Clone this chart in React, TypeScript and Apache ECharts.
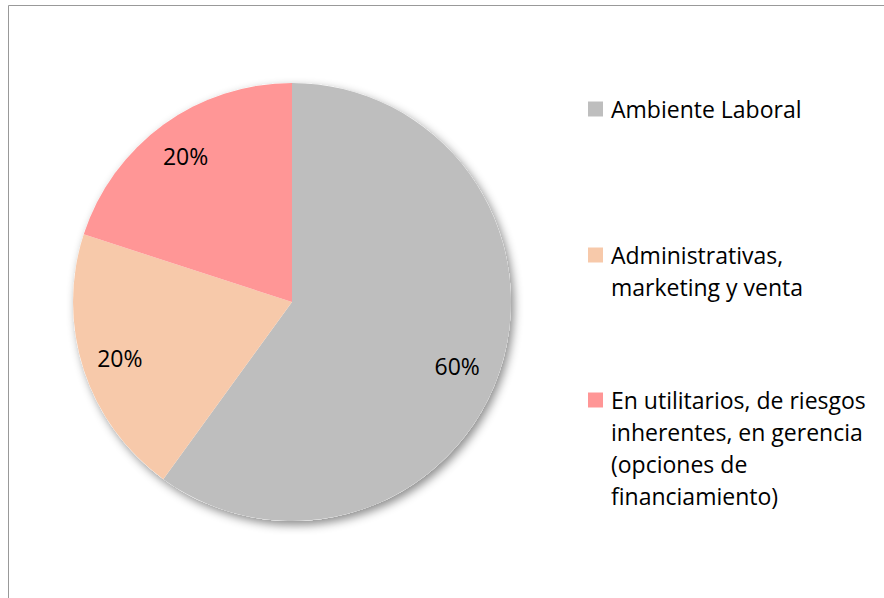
import React, { useEffect, useRef } from "react";
import * as echarts from "echarts";

const categories = [
  "Ambiente Laboral",
  "Administrativas,\nmarketing y venta",
  "En utilitarios, de riesgos\ninherentes, en gerencia\n(opciones de\nfinanciamiento)",
];
const values = [60, 20, 20];
const colors = ["#BEBEBE", "#F7C9AA", "#FF9696"];

const FONT = "'Open Sans', sans-serif";
const CX = 292;
const CY = 302;
const R = 219;

export default function App() {
  const ref = useRef<HTMLDivElement>(null);
  useEffect(() => {
    if (!ref.current) return;
    const chart = echarts.init(ref.current, undefined, { renderer: "svg" });
    const data = categories.map((name, i) => ({
      name,
      value: values[i],
      itemStyle: { color: colors[i] },
    }));
    const legendBase = {
      orient: "vertical" as const,
      left: 588,
      padding: 0,
      itemWidth: 15,
      itemHeight: 15,
      icon: "rect",
      selectedMode: false,
    };
    const tops = [93, 207, 288];
    chart.setOption({
      animation: false,
      backgroundColor: "#ffffff",
      legend: categories.map((name, i) => {
        const n = name.split("\n").length;
        return {
          ...legendBase,
          top: tops[i],
          data: [name],
          formatter: (nm: string) => "\n".repeat(n - 1) + nm,
          textStyle: {
            fontFamily: FONT,
            fontSize: 23,
            color: "#000",
            lineHeight: 32,
            padding: [0, 0, 0, 3],
          },
        };
      }),
      graphic: [
        {
          type: "polyline",
          silent: true,
          shape: { points: [[8.5, 700], [8.5, 5.5], [900, 5.5]] },
          style: { stroke: "#999", lineWidth: 1, fill: "none" },
        },
      ],
      series: [
        {
          type: "pie",
          center: [CX, CY],
          radius: R,
          silent: true,
          z: 1,
          label: { show: false },
          labelLine: { show: false },
          data: [
            {
              name: "",
              value: 1,
              itemStyle: {
                color: "#ffffff",
                shadowBlur: 10,
                shadowOffsetX: 3,
                shadowOffsetY: 4,
                shadowColor: "rgba(0,0,0,0.45)",
              },
            },
          ],
        },
        {
          type: "pie",
          center: [CX, CY],
          radius: R,
          startAngle: 90,
          clockwise: true,
          silent: true,
          z: 2,
          label: { show: false },
          labelLine: { show: false },
          data,
        },
        {
          type: "pie",
          center: [CX, CY],
          radius: [158, 198],
          startAngle: 90,
          clockwise: true,
          silent: true,
          z: 3,
          itemStyle: { color: "rgba(0,0,0,0)" },
          label: {
            show: true,
            position: "inside",
            formatter: "{d}%",
            fontFamily: FONT,
            fontSize: 23,
            color: "#000",
          },
          labelLayout: (p: any) =>
            p.dataIndex === 0 ? { dx: -7, dy: 8 } : {},
          labelLine: { show: false },
          data: categories.map((name, i) => ({
            name,
            value: values[i],
            itemStyle: { color: "rgba(0,0,0,0)" },
          })),
        },
      ],
    });
    return () => chart.dispose();
  }, []);
  return (
    <div
      ref={ref}
      style={{ position: "fixed", left: 0, top: 0, width: 884, height: 598 }}
    />
  );
}
